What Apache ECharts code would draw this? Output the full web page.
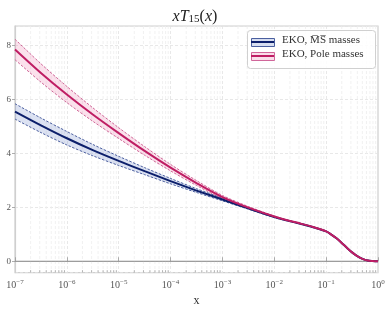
<!DOCTYPE html>
<html><head><meta charset="utf-8">
<script src="https://cdn.jsdelivr.net/npm/echarts@6/dist/echarts.min.js"></script>
<style>html,body{margin:0;padding:0;background:#fff}#c{width:390px;height:312px}</style>
</head><body><div id="c"></div>
<script>
const xValues = [1e-7, 3.162e-7, 1e-6, 3.162e-6, 1e-5, 3.162e-5, 1e-4, 3.162e-4, 1e-3, 3.162e-3, 1e-2, 1.778e-2, 3.162e-2, 5.623e-2, 0.1, 0.1259, 0.1585, 0.1995, 0.2512, 0.3162, 0.3981, 0.5012, 0.6310, 0.7943, 1.0];
const msCentral = [5.55, 5.04, 4.56, 4.12, 3.72, 3.34, 2.97, 2.62, 2.29, 1.96, 1.64, 1.51, 1.39, 1.26, 1.11, 0.99, 0.85, 0.68, 0.50, 0.33, 0.19, 0.09, 0.03, 0.01, 0.0];
const msUpper = [5.84, 5.31, 4.81, 4.33, 3.89, 3.47, 3.07, 2.69, 2.34, 1.99, 1.66, 1.52, 1.40, 1.27, 1.12, 1.00, 0.86, 0.69, 0.51, 0.34, 0.20, 0.10, 0.04, 0.02, 0.01];
const msLower = [5.27, 4.77, 4.31, 3.91, 3.55, 3.21, 2.87, 2.55, 2.24, 1.93, 1.62, 1.50, 1.38, 1.25, 1.10, 0.98, 0.84, 0.67, 0.49, 0.32, 0.18, 0.08, 0.02, 0.00, -0.01];
const poleCentral = [7.85, 6.98, 6.18, 5.44, 4.75, 4.09, 3.47, 2.90, 2.38, 1.99, 1.66, 1.52, 1.40, 1.27, 1.11, 0.99, 0.85, 0.68, 0.50, 0.33, 0.19, 0.09, 0.03, 0.01, 0.0];
const poleUpper = [8.23, 7.32, 6.48, 5.69, 4.95, 4.25, 3.59, 2.99, 2.44, 2.03, 1.68, 1.53, 1.41, 1.28, 1.12, 1.00, 0.86, 0.69, 0.51, 0.34, 0.20, 0.10, 0.04, 0.02, 0.01];
const poleLower = [7.47, 6.64, 5.88, 5.19, 4.55, 3.93, 3.35, 2.81, 2.32, 1.95, 1.64, 1.51, 1.39, 1.26, 1.10, 0.98, 0.84, 0.67, 0.49, 0.32, 0.18, 0.08, 0.02, 0.00, -0.01];
const yTicks = [0, 2, 4, 6, 8];
const legendNames = ['EKO, M\u0305S\u0305 masses', 'EKO, Pole masses'];

const X_MIN = 1e-7, X_MAX = 1, Y_MIN = -0.42, Y_MAX = 8.72;
const NAVY = '#0c1f6b', NAVY_FILL = 'rgba(95,125,195,0.22)', NAVY_EDGE = '#3a4f95';
const PINK = '#bf1e64', PINK_FILL = 'rgba(235,120,170,0.22)', PINK_EDGE = '#c9558b';
const SERIF = '"Liberation Serif", "DejaVu Serif", serif';

const minorTicks = [];
for (let d = -7; d < 0; d++) for (let k = 2; k <= 9; k++) minorTicks.push([k * Math.pow(10, d), 0]);

const pair = (ys) => xValues.map((x, i) => [x, ys[i]]);

function bandSeries(name, lo, hi, fill, edge) {
  return [
    { type: 'custom', name: name + '_band', data: xValues.map((x, i) => [x, lo[i], hi[i]]),
      encode: { x: 0, y: [1, 2] }, silent: true, z: 3,
      renderItem: (params, api) => {
        if (params.dataIndex !== 0) return null;
        const up = xValues.map((x, i) => api.coord([x, hi[i]]));
        const dn = xValues.map((x, i) => api.coord([x, lo[i]])).reverse();
        return { type: 'polygon', shape: { points: up.concat(dn) }, style: { fill: fill, stroke: null } };
      } },
    { type: 'line', name: name + '_hi', data: pair(hi), symbol: 'none', smooth: 0.3,
      lineStyle: { width: 0.9, color: edge, type: [2.5, 1.5] }, silent: true, z: 3 },
    { type: 'line', name: name + '_lo', data: pair(lo), symbol: 'none', smooth: 0.3,
      lineStyle: { width: 0.9, color: edge, type: [2.5, 1.5] }, silent: true, z: 3 }
  ];
}

const chart = echarts.init(document.getElementById('c'), null, { renderer: 'canvas' });
const option = {
  animation: false,
  backgroundColor: '#fff',
  title: {
    text: '{i|xT}{s|15}{r|(}{i|x}{r|)}', left: 'center', top: 3,
    textStyle: { fontWeight: 'normal', rich: {
      i: { fontFamily: SERIF, fontStyle: 'italic', fontWeight: 'normal', fontSize: 16, color: '#222' },
      r: { fontFamily: SERIF, fontWeight: 'normal', fontSize: 16, color: '#222' },
      s: { fontFamily: SERIF, fontWeight: 'normal', fontSize: 11, color: '#222', padding: [6, 0, 0, 0] }
    } }
  },
  grid: { left: 15, right: 12, top: 26, bottom: 33, show: true, borderColor: '#cfcfcf', borderWidth: 1.2, backgroundColor: 'transparent' },
  xAxis: {
    type: 'log', logBase: 10, min: X_MIN, max: X_MAX,
    name: 'x', nameLocation: 'middle', nameGap: 22,
    nameTextStyle: { fontFamily: SERIF, fontSize: 12, color: '#333' },
    axisLine: { show: true, lineStyle: { color: '#cfcfcf', width: 1.2 } },
    axisTick: { show: true, inside: true, length: 4, lineStyle: { color: '#999', width: 0.8 } },
    splitLine: { show: true, lineStyle: { color: '#e2e2e2', type: [3, 2], width: 0.8 } },
    axisLabel: {
      margin: 6,
      formatter: (v) => { const e = Math.round(Math.log10(v)); return '{b|10}{s|' + (e < 0 ? '\u2212' + (-e) : e) + '}'; },
      rich: {
        b: { fontFamily: SERIF, fontSize: 10, color: '#555' },
        s: { fontFamily: SERIF, fontSize: 7, color: '#555', padding: [0, 0, 6, 0] }
      }
    }
  },
  yAxis: {
    type: 'value', min: Y_MIN, max: Y_MAX,
    axisLine: { show: true, lineStyle: { color: '#cfcfcf', width: 1.2 } },
    axisTick: { show: true, inside: false, length: 3, lineStyle: { color: '#999', width: 0.8 } },
    splitLine: { show: true, lineStyle: { color: '#e2e2e2', type: [3, 2], width: 0.8 } },
    axisLabel: { showMinLabel: false, showMaxLabel: false, margin: 4, fontFamily: SERIF, fontSize: 9, color: '#555',
      formatter: (v) => yTicks.includes(v) ? String(v) : '' },
    splitNumber: 5
  },
  series: [
    { type: 'custom', name: 'minor', data: minorTicks, encode: { x: 0, y: 1 }, z: 1, silent: true, clip: false,
      renderItem: (params, api) => {
        const x = api.value(0);
        const top = api.coord([x, Y_MAX]);
        const bot = api.coord([x, Y_MIN]);
        return { type: 'group', children: [
          { type: 'line', shape: { x1: top[0], y1: top[1], x2: bot[0], y2: bot[1] }, style: { stroke: '#eeeeee', lineWidth: 0.8, lineDash: [3, 2] } },
          { type: 'line', shape: { x1: bot[0], y1: bot[1], x2: bot[0], y2: bot[1] - 2.5 }, style: { stroke: '#999', lineWidth: 0.7 } }
        ] };
      } },
    { type: 'line', name: 'zero', data: [[X_MIN, 0], [X_MAX, 0]], symbol: 'none',
      lineStyle: { color: '#8c8c8c', width: 1.2 }, silent: true, z: 2 },
    ...bandSeries('ms', msLower, msUpper, NAVY_FILL, NAVY_EDGE),
    { type: 'line', name: legendNames[0], data: pair(msCentral), symbol: 'none', smooth: 0.3,
      lineStyle: { width: 2, color: NAVY }, z: 4 },
    ...bandSeries('pole', poleLower, poleUpper, PINK_FILL, PINK_EDGE),
    { type: 'line', name: legendNames[1], data: pair(poleCentral), symbol: 'none', smooth: 0.3,
      lineStyle: { width: 2, color: PINK }, z: 4 }
  ],
  graphic: [
    { type: 'rect', left: 247, top: 30, shape: { width: 128, height: 38, r: 3 }, style: { fill: 'rgba(255,255,255,0.85)', stroke: '#d0d0d0', lineWidth: 1 }, z: 10 },
    { type: 'rect', left: 251, top: 38, shape: { width: 23, height: 8 }, style: { fill: 'rgba(95,125,195,0.25)', stroke: '#4a5f9f', lineWidth: 1 }, z: 11 },
    { type: 'line', shape: { x1: 251, y1: 42, x2: 274, y2: 42 }, style: { stroke: NAVY, lineWidth: 2 }, z: 12 },
    { type: 'text', left: 282, top: 35, style: { text: legendNames[0], font: '11px ' + SERIF, fill: '#333' }, z: 12 },
    { type: 'rect', left: 251, top: 52, shape: { width: 23, height: 8 }, style: { fill: 'rgba(235,120,170,0.25)', stroke: '#d0669a', lineWidth: 1 }, z: 11 },
    { type: 'line', shape: { x1: 251, y1: 56, x2: 274, y2: 56 }, style: { stroke: PINK, lineWidth: 2 }, z: 12 },
    { type: 'text', left: 282, top: 49, style: { text: legendNames[1], font: '11px ' + SERIF, fill: '#333' }, z: 12 }
  ]
};
chart.setOption(option);
</script></body></html>
